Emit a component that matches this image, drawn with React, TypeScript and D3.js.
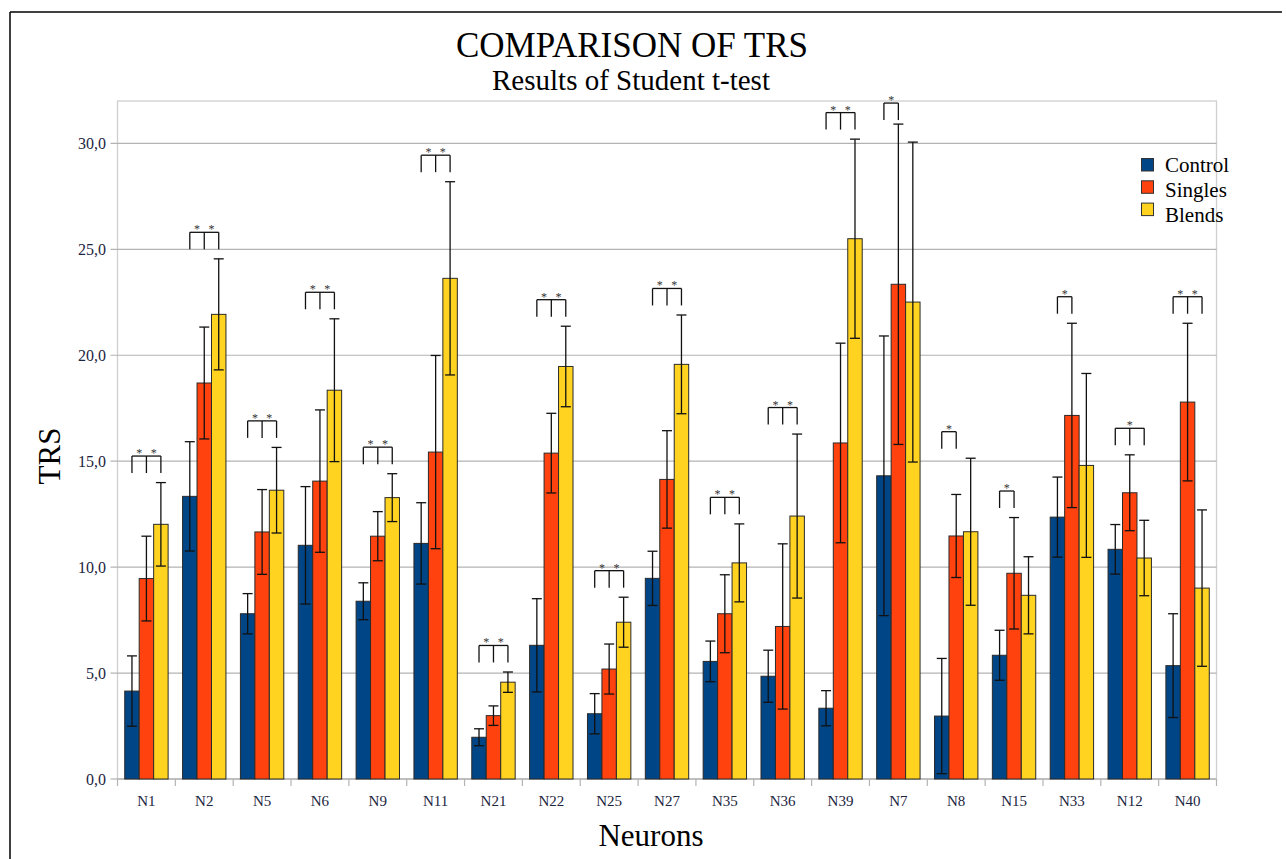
import React from "react";
import * as d3 from "d3";

const categories = ["N1","N2","N5","N6","N9","N11","N21","N22","N25","N27","N35","N36","N39","N7","N8","N15","N33","N12","N40"];
const seriesNames = ["Control","Singles","Blends"];
const controlMean = [4.15,13.34,7.8,11.03,8.39,11.12,1.97,6.31,3.08,9.47,5.55,4.85,3.34,14.31,2.97,5.84,12.36,10.84,5.35];
const controlErr  = [1.66,2.58,0.95,2.77,0.87,1.92,0.4,2.2,0.95,1.28,0.96,1.23,0.83,6.6,2.72,1.18,1.89,1.17,2.45];
const singlesMean = [9.46,18.69,11.66,14.06,11.46,15.43,2.99,15.38,5.19,14.14,7.8,7.2,15.86,23.35,11.47,9.71,17.16,13.51,17.79];
const singlesErr  = [2.0,2.64,2.0,3.36,1.16,4.56,0.46,1.88,1.18,2.3,1.84,3.9,4.71,7.56,1.96,2.63,4.35,1.79,3.72];
const blendsMean  = [12.02,21.93,13.63,18.35,13.28,23.63,4.57,19.47,7.4,19.57,10.2,12.41,25.5,22.51,11.67,8.67,14.8,10.43,9.01];
const blendsErr   = [1.97,2.62,2.02,3.37,1.13,4.56,0.48,1.9,1.18,2.33,1.84,3.87,4.7,7.55,3.47,1.82,4.34,1.78,3.69];
// significance marks: "two" = control-singles & singles-blends, "cs" = control-singles, "mid" = three legs one star
const sigMarks = ["two","two","two","two","two","two","two","two","two","two","two","two","two","cs","cs","cs","cs","mid","two"];
const yTicks = [0,5,10,15,20,25,30];
const colors = ["#004586","#ff420e","#ffd320"];

const means = [controlMean, singlesMean, blendsMean];
const errs = [controlErr, singlesErr, blendsErr];

export default function App() {
  const W = 1286, H = 859;
  const left = 117.5, right = 1216.5, top = 101, bottom = 779;
  const x = d3.scaleBand<string>().domain(categories).range([left, right]).paddingInner(0.25).paddingOuter(0.125);
  const xs = d3.scaleBand<string>().domain(seriesNames).range([0, x.bandwidth()]);
  const y = d3.scaleLinear().domain([0, 32]).range([bottom, top]);
  const step = x.step();
  const serif = "'Liberation Serif', 'Times New Roman', serif";
  const fmt = (v: number) => d3.format(".1f")(v).replace(".", ",");

  const bars: React.ReactNode[] = [];
  const errBars: React.ReactNode[] = [];
  const sig: React.ReactNode[] = [];
  categories.forEach((c, i) => {
    seriesNames.forEach((s, k) => {
      const bx = (x(c) as number) + (xs(s) as number);
      const bw = xs.bandwidth();
      const v = means[k][i];
      bars.push(<rect key={c + s} x={bx} y={y(v)} width={bw} height={y(0) - y(v)} fill={colors[k]} stroke="#2a2a2a" strokeWidth={1} />);
      const cx = bx + bw / 2;
      const hi = y(v + errs[k][i]);
      const lo = y(v - errs[k][i]);
      errBars.push(
        <g key={"e" + c + s} stroke="#111" strokeWidth={1.3}>
          <line x1={cx} x2={cx} y1={hi} y2={lo} />
          <line x1={cx - 5} x2={cx + 5} y1={hi} y2={hi} />
          <line x1={cx - 5} x2={cx + 5} y1={lo} y2={lo} />
        </g>
      );
    });
    const mark = sigMarks[i];
    const legIdx = mark === "cs" ? [0, 1] : [0, 1, 2];
    const maxTop = d3.max([0, 1, 2], (k) => means[k][i] + errs[k][i]) as number;
    const legBottom = y(Math.min(maxTop + 0.45, 31.1));
    const bTop = legBottom - 17;
    const centers = legIdx.map((k) => (x(c) as number) + (xs(seriesNames[k]) as number) + xs.bandwidth() / 2);
    const starXs = mark === "two" ? [(centers[0] + centers[1]) / 2, (centers[1] + centers[2]) / 2]
      : mark === "cs" ? [(centers[0] + centers[1]) / 2] : [centers[1]];
    sig.push(
      <g key={"s" + c}>
        <g stroke="#111" strokeWidth={1.3} fill="none">
          <line x1={centers[0]} x2={centers[centers.length - 1]} y1={bTop} y2={bTop} />
          {centers.map((cx, j) => <line key={j} x1={cx} x2={cx} y1={bTop} y2={legBottom} />)}
        </g>
        {starXs.map((sx, j) => (
          <text key={"t" + j} x={sx} y={bTop + 1} textAnchor="middle" fontFamily={serif} fontSize={12} fill="#333">*</text>
        ))}
      </g>
    );
  });

  const boundaries = categories.map((c) => (x(c) as number) - step * 0.125).concat([right]);

  return (
    <svg width={W} height={H} style={{ position: "absolute", left: 0, top: 0, background: "#fff" }}>
      <rect x={0} y={0} width={W} height={H} fill="#fff" />
      <line x1={10} x2={1282} y1={12} y2={12} stroke="#000" strokeWidth={1.5} />
      <line x1={10} x2={10} y1={12} y2={H} stroke="#000" strokeWidth={1.5} />
      <text x={632} y={57} textAnchor="middle" fontFamily={serif} fontSize={35} fill="#000">COMPARISON OF TRS</text>
      <text x={631} y={90} textAnchor="middle" fontFamily={serif} fontSize={29} fill="#000">Results of Student t-test</text>
      {/* plot frame */}
      <rect x={left} y={top} width={right - left} height={bottom - top} fill="none" stroke="#cfcfcf" strokeWidth={1.3} />
      {yTicks.map((t) => (
        <g key={"y" + t}>
          <line x1={left - 7} x2={t === 0 ? left : right} y1={y(t)} y2={y(t)} stroke="#b3b3b3" strokeWidth={1.2} />
          <text x={106} y={y(t)} dy="0.35em" textAnchor="end" fontFamily={serif} fontSize={16} fill="#1c2540">{fmt(t)}</text>
        </g>
      ))}
      <line x1={left} x2={right} y1={bottom} y2={bottom} stroke="#b3b3b3" strokeWidth={1.3} />
      {boundaries.map((bx, i) => (
        <line key={"xt" + i} x1={bx} x2={bx} y1={bottom} y2={bottom + 7} stroke="#b3b3b3" strokeWidth={1.2} />
      ))}
      {categories.map((c) => (
        <text key={"xl" + c} x={(x(c) as number) + x.bandwidth() / 2} y={806} textAnchor="middle" fontFamily={serif} fontSize={15} fill="#1c2540">{c}</text>
      ))}
      {bars}
      {errBars}
      {sig}
      <text transform={`translate(60,456) rotate(-90)`} textAnchor="middle" fontFamily={serif} fontSize={31} fill="#000">TRS</text>
      <text x={651} y={846} textAnchor="middle" fontFamily={serif} fontSize={31} fill="#000">Neurons</text>
      {seriesNames.map((s, k) => (
        <g key={"lg" + s}>
          <rect x={1141.5} y={158.5 + k * 22.3} width={12} height={12.5} fill={colors[k]} stroke="#333" strokeWidth={1} />
          <text x={1165} y={172 + k * 24.8} fontFamily={serif} fontSize={21} fill="#000">{s}</text>
        </g>
      ))}
    </svg>
  );
}
